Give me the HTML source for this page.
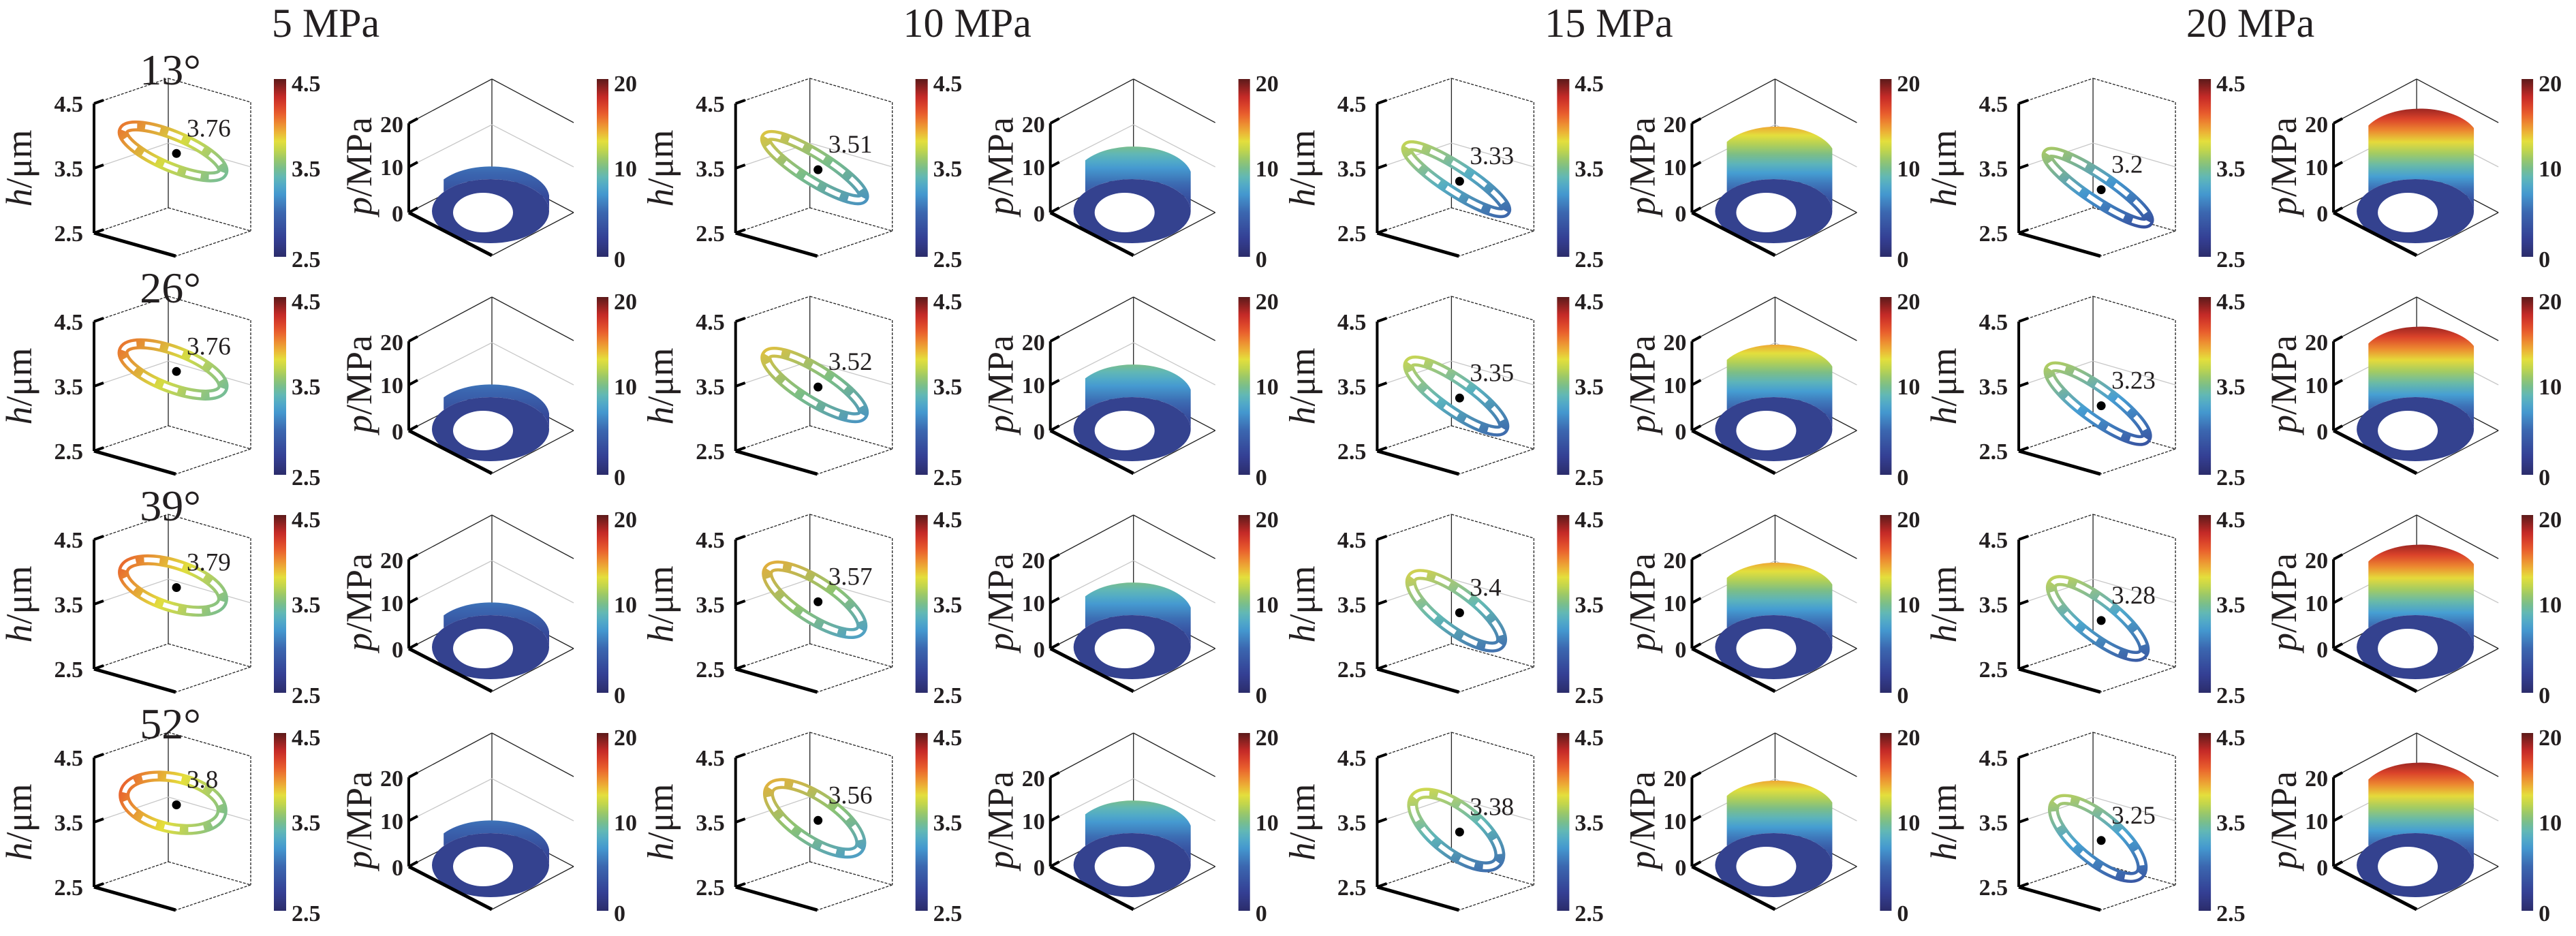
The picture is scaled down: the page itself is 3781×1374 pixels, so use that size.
<!DOCTYPE html>
<html><head><meta charset="utf-8">
<style>
html,body{margin:0;padding:0;background:#fff;}
svg{display:block;}
text{font-family:"Liberation Serif","Times New Roman",serif;fill:#231f20;}
.b{font-weight:bold;font-size:34px;}
</style></head>
<body>
<svg id="s" width="3781" height="1374" viewBox="0 0 3781 1374" xmlns="http://www.w3.org/2000/svg"></svg>
<script>
var S=document.getElementById('s');
var out='';
var stops=[[0,'#2b2c6a'],[0.1,'#343f93'],[0.25,'#3b67b0'],[0.37,'#46a0d4'],[0.45,'#62b8b4'],[0.52,'#83c07a'],[0.6,'#c1d54c'],[0.65,'#e4df3c'],[0.72,'#efa233'],[0.82,'#e7512b'],[0.9,'#c42a27'],[1,'#5c1a1a']];
function hx(c){return [parseInt(c.substr(1,2),16),parseInt(c.substr(3,2),16),parseInt(c.substr(5,2),16)];}
function cmap(v){v=Math.max(0,Math.min(1,v));for(var i=1;i<stops.length;i++){if(v<=stops[i][0]){var a=stops[i-1],b=stops[i];var t=(v-a[0])/(b[0]-a[0]);var A=hx(a[1]),B=hx(b[1]);return 'rgb('+[0,1,2].map(function(k){return Math.round(A[k]+(B[k]-A[k])*t)}).join(',')+')';}}return stops[stops.length-1][1];}
var defs='<defs><linearGradient id="cb" x1="0" y1="1" x2="0" y2="0">';
for(var i=0;i<=20;i++){defs+='<stop offset="'+(i/20)+'" stop-color="'+cmap(i/20)+'"/>';}
defs+='</linearGradient>';
var vals=[[3.76,3.51,3.33,3.2],[3.76,3.52,3.35,3.23],[3.79,3.57,3.4,3.28],[3.8,3.56,3.38,3.25]];
var rot=[[23,21,18,12],[32,32,33,34],[33,35,37,38],[34,36,38,40]];
var bb=[[30,34,38,44],[26,30,34,38],[25,29,34,40],[25,29,33,38]];
var aa=[[86,85,83,80],[91,90,88,86],[93,91,88,84],[96,94,91,88]];
var dd=[0.3,0.35,0.42,0.48];
var Hs=[23,58,92,122];
var angles=['13°','26°','39°','52°'];
var heads=['5 MPa','10 MPa','15 MPa','20 MPa'];
var gid=0;
function L(x1,y1,x2,y2,st){return '<line x1="'+x1+'" y1="'+y1+'" x2="'+x2+'" y2="'+y2+'" '+st+'/>';}
var thin='stroke="#222" stroke-width="1.3"';
var dash='stroke="#222" stroke-width="1.3" stroke-dasharray="4 2"';
var grey='stroke="#c8c8c8" stroke-width="1.3"';
var thick='stroke="#000" stroke-width="5"';
for(var g=0;g<4;g++){
 var ox=g*941.7;
 out+='<text x="'+(ox+478)+'" y="54" font-size="60" text-anchor="middle">'+heads[g]+'</text>';
 for(var r=0;r<4;r++){
  var T=116+320*r;
  var X=function(x){return (ox+x).toFixed(1);};
  out+=L(X(138),T+36,X(247),T-1,dash)+L(X(247),T-1,X(368),T+34,dash)+L(X(368),T+34,X(368),T+223,dash);
  out+=L(X(247),T-1,X(247),T+189,thin)+L(X(138),T+226,X(247),T+189,dash)+L(X(247),T+189,X(368),T+223,dash)+L(X(368),T+223,X(258),T+260,dash);
  out+=L(X(138),T+131,X(247),T+94,grey)+L(X(247),T+94,X(368),T+129,grey);
  out+=L(X(138),T+226,X(258),T+260,thick)+L(X(138),T+36,X(138),T+226,'stroke="#000" stroke-width="4"');
  [36,131,226].forEach(function(y){out+=L(X(138),T+y,X(152),T+y-5,'stroke="#000" stroke-width="4"');});
  out+='<text class="b" x="'+X(122)+'" y="'+(T+48)+'" text-anchor="end">4.5</text>';
  out+='<text class="b" x="'+X(122)+'" y="'+(T+143)+'" text-anchor="end">3.5</text>';
  out+='<text class="b" x="'+X(122)+'" y="'+(T+238)+'" text-anchor="end">2.5</text>';
  out+='<text transform="translate('+X(46)+','+(T+131)+') rotate(-90)" font-size="54" text-anchor="middle"><tspan font-style="italic">h</tspan>/μm</text>';
  var h=vals[r][g];var cx=ox+254,cy=T+131-(h-3.5)*95;
  var th=rot[g][r]*Math.PI/180,a=aa[g][r],b=bb[g][r];
  var d=dd[g];gid++;
  defs+='<linearGradient id="rg'+gid+'" gradientUnits="userSpaceOnUse" x1="'+(cx-a*Math.cos(th)).toFixed(1)+'" y1="'+(cy-a*Math.sin(th)).toFixed(1)+'" x2="'+(cx+a*Math.cos(th)).toFixed(1)+'" y2="'+(cy+a*Math.sin(th)).toFixed(1)+'"><stop offset="0" stop-color="'+cmap((h+d-2.5)/2)+'"/><stop offset="0.5" stop-color="'+cmap((h-2.5)/2)+'"/><stop offset="1" stop-color="'+cmap((h-d-2.5)/2)+'"/></linearGradient>';
  var tr='transform="rotate('+rot[g][r]+' '+cx.toFixed(1)+' '+cy.toFixed(1)+')"';
  out+='<ellipse cx="'+cx.toFixed(1)+'" cy="'+cy.toFixed(1)+'" rx="'+(a-7)+'" ry="'+(b-7)+'" fill="none" stroke="url(#rg'+gid+')" stroke-width="16" '+tr+'/>';
  out+='<ellipse cx="'+cx.toFixed(1)+'" cy="'+cy.toFixed(1)+'" rx="'+(a-7)+'" ry="'+(b-7)+'" fill="none" stroke="#fff" stroke-width="7" pathLength="100" stroke-dasharray="6.5 3.5" '+tr+'/>';
  out+='<circle cx="'+(cx+5).toFixed(1)+'" cy="'+(cy+3).toFixed(1)+'" r="6.5" fill="#000"/>';
  out+='<text x="'+(cx+20).toFixed(1)+'" y="'+(cy-22).toFixed(1)+'" font-size="37">'+h+'</text>';
  out+='<rect x="'+X(402)+'" y="'+T+'" width="18" height="261" fill="url(#cb)"/>';
  out+='<text class="b" x="'+X(428)+'" y="'+(T+18)+'">4.5</text><text class="b" x="'+X(428)+'" y="'+(T+143)+'">3.5</text><text class="b" x="'+X(428)+'" y="'+(T+276)+'">2.5</text>';
  if(g==0){out+='<text x="250" y="'+(T+8)+'" font-size="64" text-anchor="middle">'+angles[r]+'</text>';}
  out+=L(X(600),T+65,X(722),T,thin)+L(X(722),T,X(842),T+64,thin)+L(X(722),T,X(722),T+133,thin);
  out+=L(X(600),T+129,X(722),T+67,grey)+L(X(722),T+67,X(842),T+129,grey);
  out+=L(X(600),T+196,X(722),T+133,thin)+L(X(722),T+133,X(842),T+196,thin)+L(X(842),T+196,X(722),T+259,thin);
  var pcx=ox+720,pcy=T+194,rx=86,ry=47,H=Hs[g];gid++;
  defs+='<linearGradient id="wg'+gid+'" gradientUnits="userSpaceOnUse" x1="0" y1="'+pcy+'" x2="0" y2="'+(pcy-H-ry)+'">';
  var pm=(g+1)*5/20+0.04;
  for(var k=0;k<=10;k++){defs+='<stop offset="'+(k/10)+'" stop-color="'+cmap(0.08+(pm-0.08)*k/10)+'"/>';}
  defs+='</linearGradient>';
  var lx=pcx-0.8*rx,ly=pcy-0.6*ry;
  out+='<path d="M'+lx+','+ly+' L'+lx+','+(ly-H*0.8)+' A'+rx+','+ry+' 0 0 1 '+(pcx+rx)+','+(pcy-H)+' L'+(pcx+rx)+','+pcy+' A'+rx+','+ry+' 0 0 0 '+lx+','+ly+' Z" fill="url(#wg'+gid+')"/>';
  out+='<ellipse cx="'+pcx+'" cy="'+pcy+'" rx="'+rx+'" ry="'+ry+'" fill="#34428f"/>';
  out+='<ellipse cx="'+(pcx-11)+'" cy="'+(pcy+2)+'" rx="44" ry="29" fill="#fff"/>';
  out+=L(X(600),T+196,X(722),T+259,thick)+L(X(600),T+65,X(600),T+196,'stroke="#000" stroke-width="4"');
  [65,129,196].forEach(function(y){out+=L(X(600),T+y,X(613),T+y-7,'stroke="#000" stroke-width="4"');});
  out+='<text class="b" x="'+X(592)+'" y="'+(T+78)+'" text-anchor="end" font-size="38">20</text>';
  out+='<text class="b" x="'+X(592)+'" y="'+(T+141)+'" text-anchor="end" font-size="38">10</text>';
  out+='<text class="b" x="'+X(592)+'" y="'+(T+209)+'" text-anchor="end" font-size="38">0</text>';
  out+='<text transform="translate('+X(545)+','+(T+128)+') rotate(-90)" font-size="54" text-anchor="middle"><tspan font-style="italic">p</tspan>/MPa</text>';
  out+='<rect x="'+X(876)+'" y="'+T+'" width="17" height="261" fill="url(#cb)"/>';
  out+='<text class="b" x="'+X(901)+'" y="'+(T+18)+'">20</text><text class="b" x="'+X(901)+'" y="'+(T+143)+'">10</text><text class="b" x="'+X(901)+'" y="'+(T+276)+'">0</text>';
 }
}
defs+='</defs>';
S.innerHTML=defs+out;
</script>
</body></html>
